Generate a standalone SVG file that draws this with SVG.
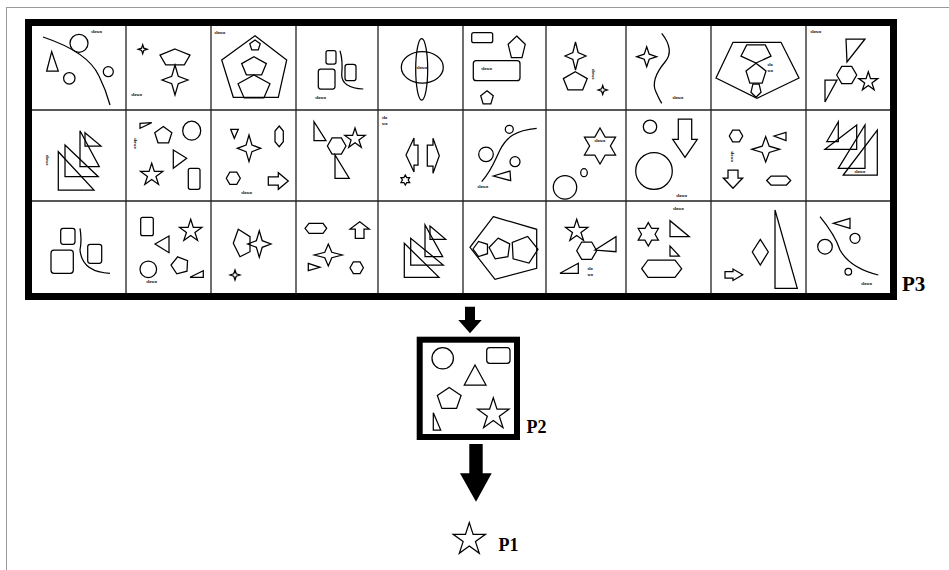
<svg xmlns="http://www.w3.org/2000/svg" xmlns:xlink="http://www.w3.org/1999/xlink" width="949" height="570" viewBox="0 0 949 570">
<style>
.s{fill:none;stroke:#000;stroke-width:1.25;stroke-linejoin:miter}
.g{stroke:#222;stroke-width:1.3;fill:none}
.t{font-family:"Liberation Serif",serif;font-weight:bold;font-size:4.5px;fill:#000}
.tm{text-anchor:middle}
.lbl{font-family:"Liberation Serif",serif;font-weight:bold;fill:#000}
.blk{fill:#000;stroke:none}
</style>
<defs>
<path id="pen" style="vector-effect:non-scaling-stroke" d="M0,-10 L9.51,-3.09 L5.88,8.09 L-5.88,8.09 L-9.51,-3.09Z"/>
<path id="st5" style="vector-effect:non-scaling-stroke" d="M0,-10 L2.245,-3.09 L9.51,-3.09 L3.633,1.18 L5.88,8.09 L0,3.82 L-5.88,8.09 L-3.633,1.18 L-9.51,-3.09 L-2.245,-3.09Z"/>
<path id="st4" style="vector-effect:non-scaling-stroke" d="M0,-10 L2.5,-2.5 L10,0 L2.5,2.5 L0,10 L-2.5,2.5 L-10,0 L-2.5,-2.5Z"/>
<path id="hex" style="vector-effect:non-scaling-stroke" d="M-10,0 L-5,-8.66 L5,-8.66 L10,0 L5,8.66 L-5,8.66Z"/>
<path id="st6" style="vector-effect:non-scaling-stroke" d="M0,-10 L2.887,-5 L8.66,-5 L5.77,0 L8.66,5 L2.887,5 L0,10 L-2.887,5 L-8.66,5 L-5.77,0 L-8.66,-5 L-2.887,-5Z"/>
<path id="arr" style="vector-effect:non-scaling-stroke" d="M-10,-4 L0,-4 L0,-8 L10,0 L0,8 L0,4 L-10,4Z"/>
</defs>
<rect width="949" height="570" fill="#fff"/>
<rect x="6.5" y="7.5" width="960" height="600" fill="none" stroke="#999" stroke-width="1"/>

<g id="P3">
<rect x="28.5" y="22.5" width="865" height="274" fill="#fff" stroke="#000" stroke-width="7"/>
<path class="g" d="M126,26V293M211,26V293M296,26V293M378,26V293M463,26V293M546,26V293M626,26V293M711,26V293M806,26V293M32,110H890M32,201H890"/>

<g id="c11">
<path class="s" d="M43,37 Q88,52 99,76 Q106,90 110,105"/>
<circle class="s" cx="79" cy="43.3" r="9"/>
<path class="s" d="M46.7,71 L51.7,51.7 L58.3,71Z"/>
<circle class="s" cx="69.3" cy="78.3" r="5.7"/>
<circle class="s" cx="108.3" cy="71.7" r="5"/>
<text class="t tm" x="96.7" y="33">slowo</text>
</g>
<g id="c12">
<use xlink:href="#st4" class="s" transform="translate(142.7,49.3) scale(0.45)"/>
<use xlink:href="#pen" class="s" transform="translate(175,57.8) scale(1.58,0.88)"/>
<use xlink:href="#st4" class="s" transform="translate(175,80) scale(1.3,1.5)"/>
<text class="t tm" x="136.7" y="96">slowo</text>
</g>
<g id="c13">
<polygon class="s" points="255,35.7 286.7,60 278.3,97.3 233.3,97.3 221.7,60"/>
<use xlink:href="#pen" class="s" transform="translate(255,45.5) scale(0.55)"/>
<use xlink:href="#pen" class="s" transform="translate(254,66.7) scale(1.3,1.0)"/>
<use xlink:href="#pen" class="s" transform="translate(254,87.7) scale(1.68,1.27)"/>
<text class="t tm" x="220" y="34">slowo</text>
</g>
<g id="c14">
<rect class="s" x="326" y="50.7" width="10" height="13.3" rx="2"/>
<rect class="s" x="318.3" y="69" width="16.7" height="20" rx="2.5"/>
<path class="s" d="M340,50.7 Q343,60 341.7,75 Q342,88 363.3,89"/>
<rect class="s" x="345" y="64.3" width="11" height="16.4" rx="2.5"/>
<text class="t tm" x="320.7" y="99">slowo</text>
</g>
<g id="c15">
<ellipse class="s" cx="422.3" cy="67.3" rx="21" ry="15.7"/>
<ellipse class="s" cx="421.7" cy="69.3" rx="6" ry="30.7"/>
<text class="t tm" x="422" y="68.5">slowo</text>
</g>
<g id="c16">
<rect class="s" x="471.7" y="32.7" width="21" height="10" rx="2"/>
<use xlink:href="#pen" class="s" transform="translate(516.7,48) scale(0.9,1.2)"/>
<rect class="s" x="473.3" y="60.7" width="46.7" height="20" rx="3"/>
<text class="t tm" x="486.7" y="70">slowo</text>
<use xlink:href="#pen" class="s" transform="translate(487,98) scale(0.66,0.73)"/>
</g>
<g id="c17">
<use xlink:href="#st4" class="s" transform="translate(575.5,56) scale(1.05,1.4)"/>
<use xlink:href="#pen" class="s" transform="translate(575.3,81.7) scale(1.26,1.0)"/>
<text class="t tm" transform="translate(592,74) rotate(90)">slowo</text>
<use xlink:href="#st4" class="s" transform="translate(602.7,90) scale(0.45)"/>
</g>
<g id="c18">
<use xlink:href="#st4" class="s" transform="translate(646.7,56.7) scale(1.0)"/>
<path class="s" d="M661.7,33.3 Q675,50 665,62 Q650,80 656,92 Q659,99 661.7,103.3"/>
<text class="t tm" x="678" y="99.3">slowo</text>
</g>
<g id="c19">
<polygon class="s" points="733,42.3 781,42.3 799,78 757,98.3 716,78"/>
<use xlink:href="#pen" class="s" transform="translate(756,53) scale(1.58,-1.0)"/>
<use xlink:href="#pen" class="s" transform="translate(756,74.3) scale(1.05,1.1)"/>
<use xlink:href="#pen" class="s" transform="translate(756,90) scale(0.53,-0.73)"/>
<text class="t" x="767.5" y="66">slo</text>
<text class="t" x="767.5" y="71.7">wo</text>
</g>
<g id="c110">
<text class="t tm" x="816" y="32.7">slowo</text>
<polygon class="s" points="846,39 865,39 847,62"/>
<use xlink:href="#hex" class="s" transform="translate(846.7,75) scale(1.0)"/>
<polygon class="s" points="825,80 837,80 825,102"/>
<use xlink:href="#st5" class="s" transform="translate(868.3,81.7) scale(1.0)"/>
</g>

<g id="c21">
<text class="t tm" transform="translate(46,160) rotate(90)">slowo</text>
<polygon class="s" points="58.3,151.7 58.3,190 94,190"/>
<polygon class="s" points="65,145 65,176.7 98.3,176.7"/>
<polygon class="s" points="80,130.7 80,166.7 99.3,166.7"/>
<polygon class="s" points="85,132.7 101,146 85,146"/>
</g>
<g id="c22">
<polygon class="s" points="140,123.3 151.7,122.7 140,128.3"/>
<use xlink:href="#pen" class="s" transform="translate(163.3,135.5) scale(0.9)"/>
<ellipse class="s" cx="191.7" cy="130.7" rx="9" ry="9.5"/>
<text class="t tm" transform="translate(133.5,143.3) rotate(90)">slowo</text>
<polygon class="s" points="173.3,150 186.7,158.3 173.3,168.3"/>
<use xlink:href="#st5" class="s" transform="translate(151.7,175) scale(1.17)"/>
<rect class="s" x="188.3" y="168.3" width="11.7" height="21" rx="2"/>
</g>
<g id="c23">
<polygon class="s" points="230.7,129.3 238.3,129.3 234.3,138.3"/>
<use xlink:href="#st4" class="s" transform="translate(249,148.3) scale(1.17,1.33)"/>
<polygon class="s" points="279.2,126 283.3,131 283.3,141.7 279.2,146.7 275,141.7 275,131"/>
<use xlink:href="#hex" class="s" transform="translate(233.3,178.3) scale(0.7)"/>
<use xlink:href="#arr" class="s" transform="translate(278.3,181) scale(1.0,1.04)"/>
<text class="t tm" x="246.7" y="194.3">slowo</text>
</g>
<g id="c24">
<polygon class="s" points="314,121.7 314,140.7 326,140.7"/>
<use xlink:href="#hex" class="s" transform="translate(336.7,146) scale(0.93)"/>
<use xlink:href="#st5" class="s" transform="translate(355,138.7) scale(1.07)"/>
<polygon class="s" points="335,155 335,178.3 349.3,178.3"/>
</g>
<g id="c25">
<text class="t" x="382" y="118.5">slo</text>
<text class="t" x="382" y="124.5">wo</text>
<polygon class="s" points="406,155 414,138 414,145 418,145 418,165 414,165 414,172"/>
<polygon class="s" points="439.3,155.8 433,138.3 433,145 427.3,145 427.3,166 433,166 433,173.3"/>
<use xlink:href="#st6" class="s" transform="translate(405.3,180) scale(0.5)"/>
</g>
<g id="c26">
<circle class="s" cx="509.3" cy="129.3" r="4"/>
<path class="s" d="M481.7,181.7 C492,170 495,160 500,150 C506,138 515,130 536.7,128.3"/>
<circle class="s" cx="486" cy="154.3" r="7.3"/>
<circle class="s" cx="515" cy="161.7" r="5"/>
<polygon class="s" points="493.3,176 510,171 510.7,180.7"/>
<text class="t tm" x="483" y="188.3">slowo</text>
</g>
<g id="c27">
<use xlink:href="#st6" class="s" transform="translate(600,146) scale(1.8)"/>
<text class="t tm" x="600" y="142">slowo</text>
<circle class="s" cx="565" cy="187.3" r="11.7"/>
<ellipse class="s" cx="584" cy="172.7" rx="3.3" ry="4"/>
</g>
<g id="c28">
<circle class="s" cx="650" cy="126.7" r="6.7"/>
<polygon class="s" points="678.3,119 691.7,119 691.7,139.3 697.3,139.3 685,157.3 672.7,139.3 678.3,139.3"/>
<circle class="s" cx="654" cy="171" r="18.3"/>
<text class="t tm" x="681.7" y="196.7">slowo</text>
</g>
<g id="c29">
<use xlink:href="#hex" class="s" transform="translate(736,136) scale(0.67)"/>
<text class="t tm" transform="translate(730.5,156.7) rotate(90)">slowo</text>
<use xlink:href="#st4" class="s" transform="translate(765.7,149.3) scale(1.4,1.27)"/>
<polygon class="s" points="774,136 786,132.3 786,140.7"/>
<polygon class="s" points="728,170 738,170 738,178 742.7,178 733,188.3 723.3,178 728,178"/>
<polygon class="s" points="766.7,180.5 771,176 786.5,176 790.7,180.5 786.5,185 771,185"/>
</g>
<g id="c210">
<polygon class="s" points="826.7,141.7 838.3,121.7 838.3,141.7"/>
<polygon class="s" points="825,149.3 856.7,125 856.7,149.3"/>
<polygon class="s" points="838.3,168.3 865,125 865,168.3"/>
<polygon class="s" points="843.3,175 877.3,130 877.3,175"/>
<text class="t tm" x="860" y="172.7">slowo</text>
</g>

<g id="c31">
<rect class="s" x="60.7" y="228.3" width="14.3" height="16" rx="2.5"/>
<rect class="s" x="51" y="250" width="22.3" height="23.3" rx="3"/>
<path class="s" d="M80,228.3 Q82,240 80,250 Q82,272 110,273.3"/>
<rect class="s" x="87.7" y="244.3" width="14" height="19" rx="2.5"/>
</g>
<g id="c32">
<rect class="s" x="140.7" y="217.3" width="12.6" height="18.4" rx="2"/>
<use xlink:href="#st5" class="s" transform="translate(190.7,231) scale(1.17)"/>
<polygon class="s" points="155,244 169,236 169,252.7"/>
<circle class="s" cx="148.3" cy="269.3" r="8.3"/>
<text class="t tm" x="151.7" y="283.3">slowo</text>
<use xlink:href="#pen" class="s" transform="translate(180,265.5) rotate(-15) scale(0.9)"/>
<polygon class="s" points="190,277.3 203.3,270.7 203.3,277.3"/>
</g>
<g id="c33">
<polygon class="s" points="238.3,229.3 250,236.7 250,251.7 240,256.7 233.3,243.3"/>
<use xlink:href="#st4" class="s" transform="translate(259.3,244) scale(1.17,1.33)"/>
<use xlink:href="#st4" class="s" transform="translate(235,275) scale(0.5)"/>
</g>
<g id="c34">
<polygon class="s" points="305,228.3 309,223.3 323,223.3 326.7,228.3 323,233.3 309,233.3"/>
<polygon class="s" points="359.7,221.7 369.3,229 364,229 364,238.3 355.3,238.3 355.3,229 350,229"/>
<use xlink:href="#st4" class="s" transform="translate(328.3,255) scale(1.4,1.1)"/>
<polygon class="s" points="308.3,263.3 320,267.3 308.3,270.7"/>
<use xlink:href="#hex" class="s" transform="translate(356.7,267.7) scale(0.67)"/>
</g>
<g id="c35">
<polygon class="s" points="404.3,243.3 404.3,277.3 439,277.3"/>
<polygon class="s" points="410.7,238.3 410.7,265 443.3,265"/>
<polygon class="s" points="425,225 425,256.7 442.7,256.7"/>
<polygon class="s" points="430,226 445.7,239.3 430,239.3"/>
</g>
<g id="c36">
<polygon class="s" points="493.3,216.7 536.7,229.3 536.7,268.3 495,279.3 470,247.3"/>
<use xlink:href="#pen" class="s" transform="translate(481,249) rotate(-90) scale(0.8)"/>
<use xlink:href="#pen" class="s" transform="translate(500,249) rotate(-10) scale(1.1)"/>
<use xlink:href="#pen" class="s" transform="translate(524,250) rotate(15) scale(1.4)"/>
</g>
<g id="c37">
<use xlink:href="#st5" class="s" transform="translate(576.7,231) scale(1.17)"/>
<use xlink:href="#hex" class="s" transform="translate(586.7,250.7) scale(1.0)"/>
<polygon class="s" points="560,273.3 578.3,263.3 578.3,273.3"/>
<polygon class="s" points="595,250 616,236.7 616,251.7"/>
<text class="t" x="587.5" y="270">slo</text>
<text class="t" x="587.5" y="276">wo</text>
</g>
<g id="c38">
<text class="t tm" x="678.3" y="210.3">slowo</text>
<use xlink:href="#st6" class="s" transform="translate(648.3,234.3) scale(1.17)"/>
<polygon class="s" points="670,220.7 670,236.7 689.3,236.7"/>
<polygon class="s" points="670,246 670,256 679.3,256"/>
<polygon class="s" points="641.7,268.7 648,260 675,260 681.7,268.7 675,277.3 648,277.3"/>
</g>
<g id="c39">
<polygon class="s" points="725,271.5 733,271.5 733,269 742.7,274.7 733,280.5 733,278 725,278"/>
<polygon class="s" points="760.3,239.3 768.3,252 760.3,265 752.3,252"/>
<polygon class="s" points="775,210 775,288.3 797.3,288.3"/>
</g>
<g id="c310">
<path class="s" d="M820,216.7 Q835,235 840,250 Q850,268 878.3,275"/>
<polygon class="s" points="833.3,223.3 850,218.3 850,228.3"/>
<circle class="s" cx="855" cy="238.3" r="5"/>
<circle class="s" cx="825" cy="246.7" r="7.3"/>
<circle class="s" cx="848.3" cy="271.7" r="3.3"/>
<text class="t tm" x="866.7" y="285.3">slowo</text>
</g>
<text class="lbl" x="902" y="290.5" font-size="21">P3</text>
</g>

<g id="connectors">
<polygon class="blk" points="465,306.7 475,306.7 475,320 481.7,320 470,333.3 458.3,320 465,320"/>
<polygon class="blk" points="469.3,444 482.7,444 482.7,473.3 491.7,473.3 476,501.7 460,473.3 469.3,473.3"/>
</g>

<g id="P2">
<rect x="419.7" y="339.7" width="97.3" height="97.3" fill="#fff" stroke="#000" stroke-width="6"/>
<circle class="s" cx="442.7" cy="358.3" r="10.7"/>
<rect class="s" x="486.7" y="347.7" width="23.3" height="15.6" rx="3"/>
<polygon class="s" points="464.3,385 475,365 486,385"/>
<use xlink:href="#pen" class="s" transform="translate(449.2,399) scale(1.25,1.16)"/>
<use xlink:href="#st5" class="s" transform="translate(493.3,414.3) scale(1.65)"/>
<polygon class="s" points="433.3,412.7 433.3,430 440.7,430"/>
<text class="lbl" x="526.5" y="432.5" font-size="18">P2</text>
</g>

<g id="P1">
<use xlink:href="#st5" class="s" transform="translate(469.3,539.6) scale(1.7)"/>
<text class="lbl" x="498.5" y="550.5" font-size="18">P1</text>
</g>
</svg>
